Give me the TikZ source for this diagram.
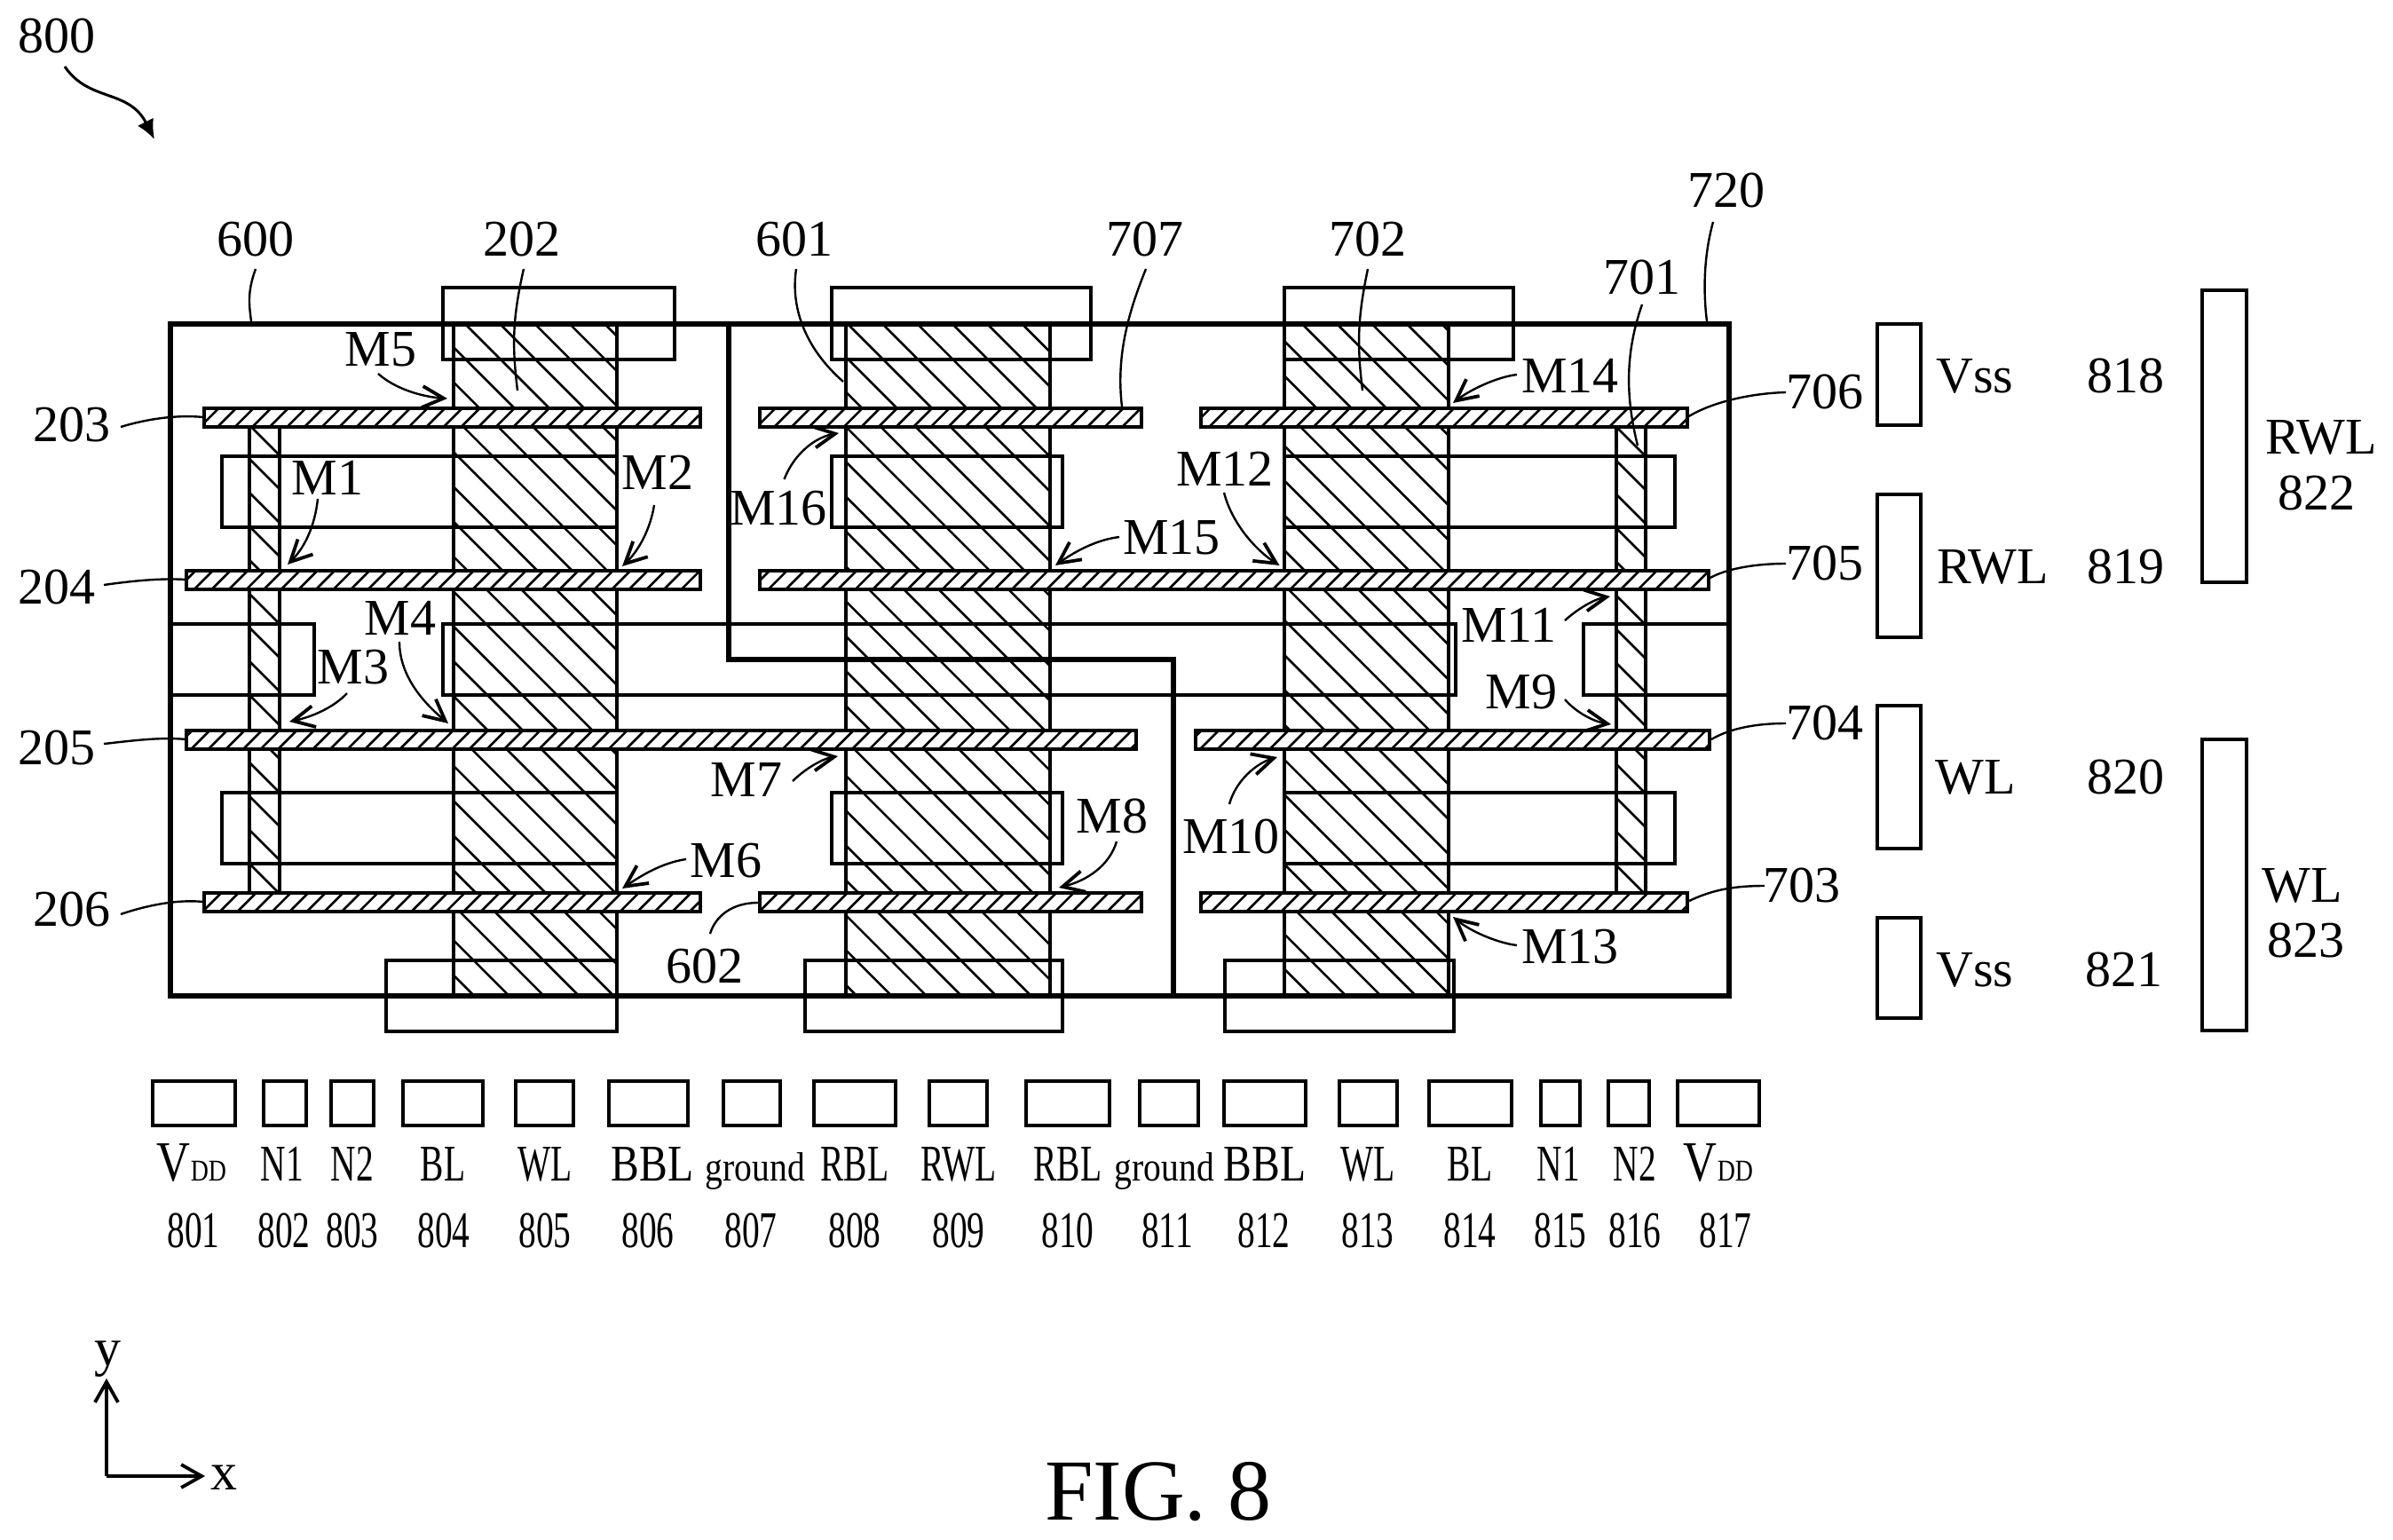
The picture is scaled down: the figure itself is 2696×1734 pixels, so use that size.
\documentclass[tikz,border=0pt]{standalone}
\usepackage{graphicx}
\usepackage{fontspec}
\setmainfont{Liberation Serif}
\usetikzlibrary{arrows.meta}
\tikzset{
  lab/.style={anchor=base,inner sep=0pt,font=\fontsize{29}{30}\selectfont},
  thinline/.style={line width=1.75pt},
  thickline/.style={line width=3.25pt},
  hatchline/.style={line width=1.3pt},
  barline/.style={line width=1.6pt},
  leader/.style={line width=1.2pt},
  marrow/.style={line width=1.2pt,-{Straight Barb[length=12pt,width=12pt,line width=1.9pt]}},
  axis/.style={line width=1.9pt,-{Straight Barb[length=11.5pt,width=13pt]}},
  pinbox/.style={line width=2pt}
}
\newcommand{\lab}[3]{\node[lab] (#1) at (#2) {#3};}
\newcommand{\lead}[5]{\coordinate (#1s) at (#2);\coordinate (#1e) at (#5);\draw[leader] (#1s) .. controls (#3) and (#4) .. (#1e);}
\newcommand{\marr}[5]{\coordinate (#1s) at (#2);\coordinate (#1e) at (#5);\draw[marrow] (#1s) .. controls (#3) and (#4) .. (#1e);}
% x0 y0 x1 y1 c spacing : down-right hatch x-y=c
\newcommand{\dhatch}[6]{%
  \begin{scope}
    \clip (#1,#2) rectangle (#3,#4);
    \pgfmathtruncatemacro{\ka}{floor((#1-#4-#5)/#6)}
    \pgfmathtruncatemacro{\kb}{ceil((#3-#2-#5)/#6)}
    \foreach \k in {\ka,...,\kb}{
      \pgfmathsetmacro{\cc}{#5+\k*#6}
      \draw[hatchline] ({\cc+#2},#2) -- ({\cc+#4},#4);
    }
  \end{scope}
  \draw[thinline] (#1,#2) rectangle (#3,#4);}
% wordline bar: x0 y0 x1 y1, hatch x+y=c
\newcommand{\wbar}[4]{%
  \fill[white] (#1,#2) rectangle (#3,#4);
  \begin{scope}
    \clip (#1,#2) rectangle (#3,#4);
    \pgfmathtruncatemacro{\ka}{floor((#1+#2-726)/19.6)}
    \pgfmathtruncatemacro{\kb}{ceil((#3+#4-726)/19.6)}
    \foreach \k in {\ka,...,\kb}{
      \pgfmathsetmacro{\cc}{726+\k*19.6}
      \draw[hatchline] ({\cc-#2},#2) -- ({\cc-#4},#4);
    }
  \end{scope}
  \draw[barline] (#1,#2) rectangle (#3,#4);}
\newcommand{\nar}[1]{\scalebox{.68}[1]{#1}}
\newcommand{\vdd}{\scalebox{.82}[1]{{\fontsize{32}{32}\selectfont V}{\fontsize{17}{17}\selectfont DD}}}
\newcommand{\grd}{\scalebox{.86}[1]{\fontsize{23}{23}\selectfont ground}}
\begin{document}
\begin{tikzpicture}[x=0.5pt,y=-0.5pt]
\useasboundingbox (0,0) rectangle (2696,1734);
% gates
\dhatch{511}{365}{695}{1122}{159}{39.3}
\dhatch{953}{365}{1183}{1122}{590}{39.3}
\dhatch{1447}{365}{1632}{1122}{1102}{39.3}
% fins
\dhatch{281}{481}{315}{1006}{-198}{38}
\dhatch{1821}{481}{1854}{1006}{1340}{38}
% active rectangles
\begin{scope}[thinline]
\draw (499,324) rectangle (760,405);
\draw (937,324) rectangle (1229,405);
\draw (1447,324) rectangle (1705,405);
\draw (250,514) rectangle (695,594);
\draw (937,514) rectangle (1197,594);
\draw (1447,514) rectangle (1887,594);
\draw (192,703) rectangle (354,783);
\draw (499,703) rectangle (1640,783);
\draw (1784,703) rectangle (1948,783);
\draw (250,893) rectangle (695,973);
\draw (937,893) rectangle (1197,973);
\draw (1447,893) rectangle (1887,973);
\draw (435,1082) rectangle (695,1162);
\draw (907,1082) rectangle (1197,1162);
\draw (1380,1082) rectangle (1638,1162);
\end{scope}
% boundary
\draw[thickline] (192,365) rectangle (1948,1122);
\draw[thickline] (821,365) -- (821,743) -- (1322,743) -- (1322,1122);
% word lines
\wbar{230}{460}{789}{481}
\wbar{210}{643}{789}{664}
\wbar{210}{823}{1280}{844}
\wbar{230}{1006}{789}{1027}
\wbar{856}{460}{1286}{481}
\wbar{856}{643}{1925}{664}
\wbar{856}{1006}{1286}{1027}
\wbar{1353}{460}{1901}{481}
\wbar{1347}{823}{1926}{844}
\wbar{1353}{1006}{1901}{1027}
% side pins
\begin{scope}[pinbox]
\draw (2115,365) rectangle (2164,479);
\draw (2115,557) rectangle (2164,718);
\draw (2115,795) rectangle (2164,956);
\draw (2115,1034) rectangle (2164,1147);
\draw (2481,327) rectangle (2531,656);
\draw (2481,833) rectangle (2531,1161);
% bottom pins
\draw (172,1218) rectangle (265,1268);
\draw (297,1218) rectangle (345,1268);
\draw (373,1218) rectangle (421,1268);
\draw (454,1218) rectangle (544,1268);
\draw (581,1218) rectangle (646,1268);
\draw (686,1218) rectangle (775,1268);
\draw (815,1218) rectangle (879,1268);
\draw (917,1218) rectangle (1009,1268);
\draw (1047,1218) rectangle (1112,1268);
\draw (1156,1218) rectangle (1250,1268);
\draw (1284,1218) rectangle (1350,1268);
\draw (1379,1218) rectangle (1471,1268);
\draw (1509,1218) rectangle (1574,1268);
\draw (1610,1218) rectangle (1703,1268);
\draw (1736,1218) rectangle (1780,1268);
\draw (1812,1218) rectangle (1858,1268);
\draw (1890,1218) rectangle (1982,1268);
\end{scope}
% reference labels
\lab{L800}{64,60}{800}
\lab{L600}{288,288}{600}
\lab{L202}{588,288}{202}
\lab{L601}{895,288}{601}
\lab{L707}{1290,288}{707}
\lab{L702}{1541,288}{702}
\lab{L701}{1850,331}{701}
\lab{L720}{1945,233}{720}
\lab{L203}{81,497}{203}
\lab{L204}{64,680}{204}
\lab{L205}{64,861}{205}
\lab{L206}{81,1043}{206}
\lab{L706}{2056,460}{706}
\lab{L705}{2056,653}{705}
\lab{L704}{2056,833}{704}
\lab{L703}{2030,1016}{703}
\lab{L602}{794,1107}{602}
% leaders
\coordinate (A800s) at (73,75);\coordinate (A800e) at (174,157);
\draw[line width=1.5pt,-{Latex[length=11pt,width=10pt]}] (A800s) .. controls (100,115) and (145,100) .. (A800e);
\lead{A600}{288,303}{278,330}{281,345}{283,362}
\lead{A202}{590,303}{577,360}{577,390}{583,440}
\lead{A601}{897,303}{890,350}{910,395}{950,430}
\lead{A707}{1291,303}{1272,350}{1257,400}{1264,458}
\lead{A702}{1541,303}{1529,360}{1529,390}{1535,440}
\lead{A701}{1850,343}{1830,400}{1832,450}{1845,502}
\lead{A720}{1930,250}{1919,290}{1919,330}{1923,362}
\lead{A203}{136,481}{165,472}{200,467}{229,470}
\lead{A204}{117,659}{145,655}{180,651}{210,653}
\lead{A205}{117,838}{145,835}{180,830}{210,833}
\lead{A206}{136,1030}{165,1020}{200,1013}{229,1016}
\lead{A706}{2012,442}{1975,443}{1930,452}{1901,470}
\lead{A705}{2012,635}{1980,635}{1945,640}{1925,652}
\lead{A704}{2012,815}{1980,815}{1950,820}{1928,833}
\lead{A703}{1988,998}{1955,998}{1930,1002}{1903,1015}
\lead{A602}{800,1052}{806,1032}{825,1017}{854,1017}
% transistor labels and arrows
\lab{LM1}{369,557}{M1}
\lab{LM2}{741,551}{M2}
\lab{LM3}{398,770}{M3}
\lab{LM4}{451,715}{M4}
\lab{LM5}{429,412}{M5}
\lab{LM6}{818,988}{M6}
\lab{LM7}{841,897}{M7}
\lab{LM8}{1253,938}{M8}
\lab{LM9}{1714,798}{M9}
\lab{LM10}{1387,961}{M10}
\lab{LM11}{1700,723}{M11}
\lab{LM12}{1380,547}{M12}
\lab{LM13}{1769,1085}{M13}
\lab{LM14}{1769,442}{M14}
\lab{LM15}{1320,624}{M15}
\lab{LM16}{877,591}{M16}
\marr{B5}{426,421}{445,438}{475,447}{504,449}
\marr{B1}{358,562}{355,590}{345,615}{324,636}
\marr{B2}{737,569}{733,595}{720,620}{701,638}
\marr{B4}{450,723}{450,760}{475,790}{505,815}
\marr{B3}{391,781}{375,798}{350,808}{326,813}
\marr{B6}{773,968}{745,972}{720,988}{701,1001}
\marr{B7}{893,880}{905,868}{925,855}{944,852}
\marr{B8}{1258,948}{1250,975}{1225,992}{1193,1000}
\marr{B10}{1385,906}{1392,880}{1415,860}{1439,853}
\marr{B16}{883.5,540}{895,510}{920,492}{945,488}
\marr{B15}{1261,605}{1235,608}{1210,622}{1189,637}
\marr{B12}{1379,555}{1388,590}{1415,620}{1441.5,637}
\marr{B14}{1709,422}{1685,425}{1655,440}{1637,454}
\marr{B11}{1763,699}{1775,688}{1795,675}{1814,672}
\marr{B9}{1763,788}{1775,802}{1795,813}{1815,816}
\marr{B13}{1709,1065}{1685,1062}{1655,1048}{1637,1033}
% side labels
\lab{Vs1}{2225,442}{Vss}
\lab{Rw1}{2245,657}{RWL}
\lab{Wl1}{2226,894}{WL}
\lab{Vs2}{2225,1111}{Vss}
\lab{N818}{2395,442}{818}
\lab{N819}{2395,657}{819}
\lab{N820}{2395,894}{820}
\lab{N821}{2393,1111}{821}
\lab{Rw2}{2615,511}{RWL}
\lab{N822}{2610,574}{822}
\lab{Wl2}{2594,1016}{WL}
\lab{N823}{2598,1078}{823}
% bottom labels
\lab{T1}{216,1330}{\vdd}
\lab{T2}{318,1330}{\nar{N1}}
\lab{T3}{397,1330}{\nar{N2}}
\lab{T4}{499,1330}{\nar{BL}}
\lab{T5}{614,1330}{\nar{WL}}
\lab{T6}{735,1330}{\scalebox{.82}[1]{BBL}}
\lab{T7}{851,1330}{\grd}
\lab{T8}{963,1330}{\nar{RBL}}
\lab{T9}{1080,1330}{\nar{RWL}}
\lab{T10}{1203,1330}{\nar{RBL}}
\lab{T11}{1312,1330}{\grd}
\lab{T12}{1425,1330}{\scalebox{.82}[1]{BBL}}
\lab{T13}{1541,1330}{\nar{WL}}
\lab{T14}{1656,1330}{\nar{BL}}
\lab{T15}{1756,1330}{\nar{N1}}
\lab{T16}{1842,1330}{\nar{N2}}
\lab{T17}{1936,1330}{\vdd}
\lab{N801}{218,1405}{\nar{801}}
\lab{N802}{320,1405}{\nar{802}}
\lab{N803}{397,1405}{\nar{803}}
\lab{N804}{500,1405}{\nar{804}}
\lab{N805}{614,1405}{\nar{805}}
\lab{N806}{730,1405}{\nar{806}}
\lab{N807}{846,1405}{\nar{807}}
\lab{N808}{963,1405}{\nar{808}}
\lab{N809}{1080,1405}{\nar{809}}
\lab{N810}{1203,1405}{\nar{810}}
\lab{N811}{1315,1405}{\nar{811}}
\lab{N812}{1424,1405}{\nar{812}}
\lab{N813}{1541,1405}{\nar{813}}
\lab{N814}{1656,1405}{\nar{814}}
\lab{N815}{1758,1405}{\nar{815}}
\lab{N816}{1842,1405}{\nar{816}}
\lab{N817}{1944,1405}{\nar{817}}
% axes
\coordinate (O) at (120,1663);
\coordinate (Ay) at (120,1553);
\coordinate (Ax) at (231,1663);
\draw[axis] (O) -- (Ay);
\draw[axis] (O) -- (Ax);
\lab{Ly}{121,1538}{\fontsize{30}{30}\selectfont y}
\lab{Lx}{252,1678}{\fontsize{30}{30}\selectfont x}
\node[lab,font=\fontsize{49}{49}\selectfont] (Fig) at (1305,1712) {FIG. 8};
\end{tikzpicture}
\end{document}
